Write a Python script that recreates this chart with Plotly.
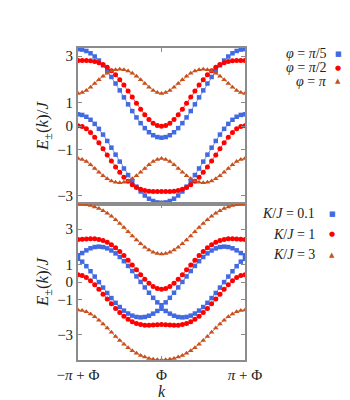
import numpy as np
import plotly.graph_objects as go
from plotly.subplots import make_subplots

# k sampled from -pi+Phi to pi+Phi (shifted so Phi sits at 0)
K_GRID = np.linspace(-np.pi, np.pi, 41)

# --- top panel: K/J fixed, three flux values ---
PHI_PI5_UP = [3.302, 3.282, 3.222, 3.123, 2.985, 2.812, 2.605, 2.368, 2.106, 1.825, 1.530,
              1.230, 0.931, 0.641, 0.369, 0.122, -0.092, -0.267, -0.396, -0.475, -0.502,
              -0.475, -0.396, -0.267, -0.092, 0.122, 0.369, 0.641, 0.931, 1.230, 1.530,
              1.825, 2.106, 2.368, 2.605, 2.812, 2.985, 3.123, 3.222, 3.282, 3.302]
PHI_PI5_DN = [0.502, 0.475, 0.396, 0.267, 0.092, -0.122, -0.369, -0.641, -0.931, -1.230, -1.530,
              -1.825, -2.106, -2.368, -2.605, -2.812, -2.985, -3.123, -3.222, -3.282, -3.302,
              -3.282, -3.222, -3.123, -2.985, -2.812, -2.605, -2.368, -2.106, -1.825, -1.530,
              -1.230, -0.931, -0.641, -0.369, -0.122, 0.092, 0.267, 0.396, 0.475, 0.502]
PHI_PI2_UP = [2.814, 2.814, 2.812, 2.800, 2.772, 2.720, 2.639, 2.526, 2.378, 2.199, 1.990,
              1.756, 1.504, 1.242, 0.977, 0.720, 0.484, 0.280, 0.122, 0.021, -0.014,
              0.021, 0.122, 0.280, 0.484, 0.720, 0.977, 1.242, 1.504, 1.756, 1.990,
              2.199, 2.378, 2.526, 2.639, 2.720, 2.772, 2.800, 2.812, 2.814, 2.814]
PHI_PI2_DN = [0.014, -0.021, -0.122, -0.280, -0.484, -0.720, -0.977, -1.242, -1.504, -1.756, -1.990,
              -2.199, -2.378, -2.526, -2.639, -2.720, -2.772, -2.800, -2.812, -2.814, -2.814,
              -2.814, -2.812, -2.800, -2.772, -2.720, -2.639, -2.526, -2.378, -2.199, -1.990,
              -1.756, -1.504, -1.242, -0.977, -0.720, -0.484, -0.280, -0.122, -0.021, 0.014]
PHI_PI_UP = [1.400, 1.435, 1.530, 1.669, 1.828, 1.990, 2.140, 2.266, 2.362, 2.421, 2.441,
             2.421, 2.362, 2.266, 2.140, 1.990, 1.828, 1.669, 1.530, 1.435, 1.400,
             1.435, 1.530, 1.669, 1.828, 1.990, 2.140, 2.266, 2.362, 2.421, 2.441,
             2.421, 2.362, 2.266, 2.140, 1.990, 1.828, 1.669, 1.530, 1.435, 1.400]
PHI_PI_DN = [-1.400, -1.435, -1.530, -1.669, -1.828, -1.990, -2.140, -2.266, -2.362, -2.421, -2.441,
             -2.421, -2.362, -2.266, -2.140, -1.990, -1.828, -1.669, -1.530, -1.435, -1.400,
             -1.435, -1.530, -1.669, -1.828, -1.990, -2.140, -2.266, -2.362, -2.421, -2.441,
             -2.421, -2.362, -2.266, -2.140, -1.990, -1.828, -1.669, -1.530, -1.435, -1.400]

# --- bottom panel: phi = pi/2, three K/J values ---
KJ01_UP = [1.514, 1.640, 1.793, 1.910, 1.981, 2.005, 1.980, 1.906, 1.786, 1.622, 1.418,
           1.179, 0.912, 0.622, 0.317, 0.005, -0.307, -0.610, -0.897, -1.154, -1.314,
           -1.154, -0.897, -0.610, -0.307, 0.005, 0.317, 0.622, 0.912, 1.179, 1.418,
           1.622, 1.786, 1.906, 1.980, 2.005, 1.981, 1.910, 1.793, 1.640, 1.514]
KJ01_DN = [1.314, 1.154, 0.897, 0.610, 0.307, -0.005, -0.317, -0.622, -0.912, -1.179, -1.418,
           -1.622, -1.786, -1.906, -1.980, -2.005, -1.981, -1.910, -1.793, -1.640, -1.514,
           -1.640, -1.793, -1.910, -1.981, -2.005, -1.980, -1.906, -1.786, -1.622, -1.418,
           -1.179, -0.912, -0.622, -0.317, -0.005, 0.307, 0.610, 0.897, 1.154, 1.314]
KJ1_UP = [2.414, 2.421, 2.436, 2.448, 2.445, 2.414, 2.351, 2.251, 2.113, 1.939, 1.732,
          1.497, 1.239, 0.967, 0.688, 0.414, 0.156, -0.072, -0.254, -0.373, -0.414,
          -0.373, -0.254, -0.072, 0.156, 0.414, 0.688, 0.967, 1.239, 1.497, 1.732,
          1.939, 2.113, 2.251, 2.351, 2.414, 2.445, 2.448, 2.436, 2.421, 2.414]
KJ1_DN = [0.414, 0.373, 0.254, 0.072, -0.156, -0.414, -0.688, -0.967, -1.239, -1.497, -1.732,
          -1.939, -2.113, -2.251, -2.351, -2.414, -2.445, -2.448, -2.436, -2.421, -2.414,
          -2.421, -2.436, -2.448, -2.445, -2.414, -2.351, -2.251, -2.113, -1.939, -1.732,
          -1.497, -1.239, -0.967, -0.688, -0.414, -0.156, 0.072, 0.254, 0.373, 0.414]
KJ3_UP = [4.414, 4.405, 4.377, 4.328, 4.257, 4.162, 4.042, 3.896, 3.725, 3.530, 3.317,
          3.088, 2.851, 2.612, 2.380, 2.162, 1.969, 1.808, 1.687, 1.611, 1.586,
          1.611, 1.687, 1.808, 1.969, 2.162, 2.380, 2.612, 2.851, 3.088, 3.317,
          3.530, 3.725, 3.896, 4.042, 4.162, 4.257, 4.328, 4.377, 4.405, 4.414]
KJ3_DN = [-1.586, -1.611, -1.687, -1.808, -1.969, -2.162, -2.380, -2.612, -2.851, -3.088, -3.317,
          -3.530, -3.725, -3.896, -4.042, -4.162, -4.257, -4.328, -4.377, -4.405, -4.414,
          -4.405, -4.377, -4.328, -4.257, -4.162, -4.042, -3.896, -3.725, -3.530, -3.317,
          -3.088, -2.851, -2.612, -2.380, -2.162, -1.969, -1.808, -1.687, -1.611, -1.586]

TOP_LABELS = ["<i>φ</i> = <i>π</i>/5", "<i>φ</i> = <i>π</i>/2", "<i>φ</i> = <i>π</i>"]
BOT_LABELS = ["<i>K</i>/<i>J</i> = 0.1", "<i>K</i>/<i>J</i> = 1", "<i>K</i>/<i>J</i> = 3"]
Y_TICKS = [-3, -1, 0, 1, 3]
X_TICKS = ["−<i>π</i> + Φ", "Φ", "<i>π</i> + Φ"]

BLUE = "#4169e1"
RED = "#ff0000"
ORANGE = "#c8501e"
FRAME = "#8c8c8c"
FONT = "Liberation Serif"
TXT = "#222"

STYLES = [(BLUE, "square", 4.5, "■"), (RED, "circle", 5, "●"), (ORANGE, "triangle-up", 5, "▲")]

top_sets = [(PHI_PI5_UP, PHI_PI5_DN), (PHI_PI2_UP, PHI_PI2_DN), (PHI_PI_UP, PHI_PI_DN)]
bot_sets = [(KJ01_UP, KJ01_DN), (KJ1_UP, KJ1_DN), (KJ3_UP, KJ3_DN)]

fig = make_subplots(rows=2, cols=1, shared_xaxes=True, vertical_spacing=0)

for row, sets in [(1, top_sets), (2, bot_sets)]:
    for (up, dn), (color, symbol, size, _) in zip(sets, STYLES):
        for band in (up, dn):
            fig.add_trace(go.Scatter(
                x=K_GRID, y=band, mode="lines+markers",
                line=dict(color=color, width=0.7),
                marker=dict(color=color, symbol=symbol, size=size, line=dict(width=0)),
                showlegend=False, hoverinfo="skip",
            ), row=row, col=1)

axis_common = dict(
    showline=True, linecolor=FRAME, linewidth=1.8, mirror="ticks",
    ticks="inside", ticklen=4, tickcolor=FRAME, showgrid=False, zeroline=False,
    tickfont=dict(family=FONT, size=15, color=TXT),
)
fig.update_xaxes(**axis_common, range=[-np.pi, np.pi],
                 tickvals=[-np.pi, 0, np.pi], ticktext=X_TICKS)
fig.update_xaxes(title=dict(text="<i>k</i>", font=dict(family=FONT, size=16, color=TXT), standoff=2),
                 row=2, col=1)
ytitle = dict(text="<i>E</i><sub>±</sub>(<i>k</i>)/<i>J</i>",
              font=dict(family=FONT, size=17, color=TXT), standoff=4)
fig.update_yaxes(**axis_common, tickvals=Y_TICKS, ticktext=["−3", "−1", "0", "1", "3"], title=ytitle)
fig.update_yaxes(range=[-3.35, 3.35], row=1, col=1)
fig.update_yaxes(range=[-4.42, 4.42], row=2, col=1)

# paper coords: plot area spans x 70..237, y 40..360 px
def px_x(p):
    return (p - 70) / 167

def px_y(p):
    return (360 - p) / 320

# legends: text right-aligned, marker to the right (as in the original)
def add_legend(labels, ys, text_right, marker_x):
    for label, y, (color, _, _, glyph) in zip(labels, ys, STYLES):
        fig.add_annotation(x=text_right, y=y, xref="paper", yref="paper", text=label,
                           xanchor="right", yanchor="middle", showarrow=False,
                           font=dict(family=FONT, size=14, color=TXT), borderpad=0)
        fig.add_annotation(x=marker_x, y=y, xref="paper", yref="paper", text=glyph,
                           xanchor="center", yanchor="middle", showarrow=False,
                           font=dict(family="DejaVu Sans", size=7, color=color), borderpad=0)

add_legend(TOP_LABELS, [px_y(46), px_y(60), px_y(74)], px_x(320), px_x(330))
add_legend(BOT_LABELS, [px_y(210), px_y(231), px_y(252)], px_x(308), px_x(324))

fig.update_layout(
    width=350, height=400,
    margin=dict(l=70, r=113, t=40, b=40),
    paper_bgcolor="white", plot_bgcolor="white",
    font=dict(family=FONT, color=TXT),
)

fig.write_html("out.html")
